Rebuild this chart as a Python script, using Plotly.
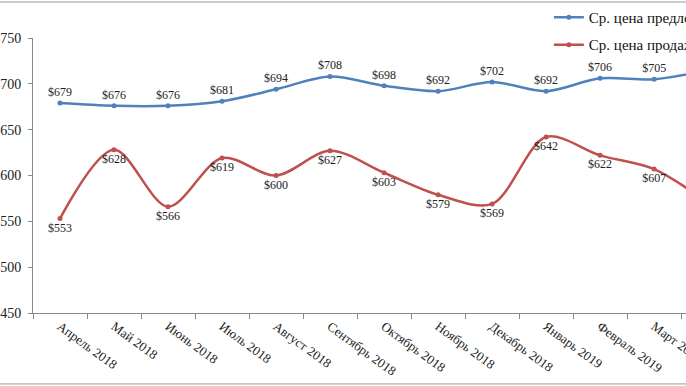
import plotly.graph_objects as go

months = ["Апрель 2018", "Май 2018", "Июнь 2018", "Июль 2018", "Август 2018",
          "Сентябрь 2018", "Октябрь 2018", "Ноябрь 2018", "Декабрь 2018",
          "Январь 2019", "Февраль 2019", "Март 2019", "Апрель 2019"]
offer_price = [679, 676, 676, 681, 694, 708, 698, 692, 702, 692, 706, 705, 715]
sale_price = [553, 628, 566, 619, 600, 627, 603, 579, 569, 642, 622, 607, 570]
series_names = ["Ср. цена предложения", "Ср. цена продажи"]

BLUE = "#4F81BD"
RED = "#C0504D"
FONT = "Liberation Serif"

fig = go.Figure()
xs = list(range(len(months)))
fig.add_trace(go.Scatter(
    x=xs, y=offer_price, name=series_names[0], legendgroup="a",
    mode="lines+markers+text", line=dict(color=BLUE, width=2.5, shape="spline", smoothing=0.9),
    marker=dict(size=5, color=BLUE),
    text=[f"${v}" for v in offer_price], textposition="top center",
    textfont=dict(family=FONT, size=12, color="#222"),
))
fig.add_trace(go.Scatter(
    x=xs, y=sale_price, name=series_names[1], legendgroup="b",
    mode="lines+markers+text", line=dict(color=RED, width=2.5, shape="spline", smoothing=0.9),
    marker=dict(size=5, color=RED),
    text=[f"${v}" for v in sale_price], textposition="bottom center",
    textfont=dict(family=FONT, size=12, color="#222"),
))

fig.update_layout(
    width=686, height=386,
    margin=dict(l=33, r=0, t=38, b=73, autoexpand=False),
    paper_bgcolor="white", plot_bgcolor="white",
    font=dict(family=FONT, color="#222"),
    legend=dict(x=0.79, y=1.135, xanchor="left", yanchor="top", itemwidth=30,
                bgcolor="rgba(0,0,0,0)", font=dict(family=FONT, size=15, color="#111"),
                traceorder="grouped", tracegroupgap=5),
    shapes=[
        dict(type="line", xref="paper", yref="paper", x0=-0.06, x1=1.01, y0=1.131, y1=1.131,
             line=dict(color="#999", width=1)),
        dict(type="line", xref="paper", yref="paper", x0=-0.06, x1=1.01, y0=-0.258, y1=-0.258,
             line=dict(color="#999", width=1)),
    ],
)
fig.update_xaxes(
    type="linear", range=[-0.5, 11.59], tickmode="array", automargin=False,
    tickvals=xs, ticktext=months, tickangle=36, ticklabeloverflow="allow",
    showline=True, linecolor="#888", linewidth=1,
    ticks="", showgrid=False, zeroline=False,
    tickfont=dict(family=FONT, size=13, color="#222"),
    minor=dict(tickvals=[i + 0.5 for i in range(-1, 13)], ticks="outside",
               ticklen=5, tickcolor="#888", showgrid=False),
)
fig.update_yaxes(
    range=[450, 750], dtick=50, tickprefix="$", automargin=False,
    showline=True, linecolor="#888", linewidth=1,
    ticks="outside", ticklen=4, tickcolor="#888",
    showgrid=False, zeroline=False, ticklabelstandoff=4,
    tickfont=dict(family=FONT, size=14, color="#222"),
)

fig.write_html("out.html", config={"displayModeBar": False},
               post_script="document.body.style.margin='0';")
